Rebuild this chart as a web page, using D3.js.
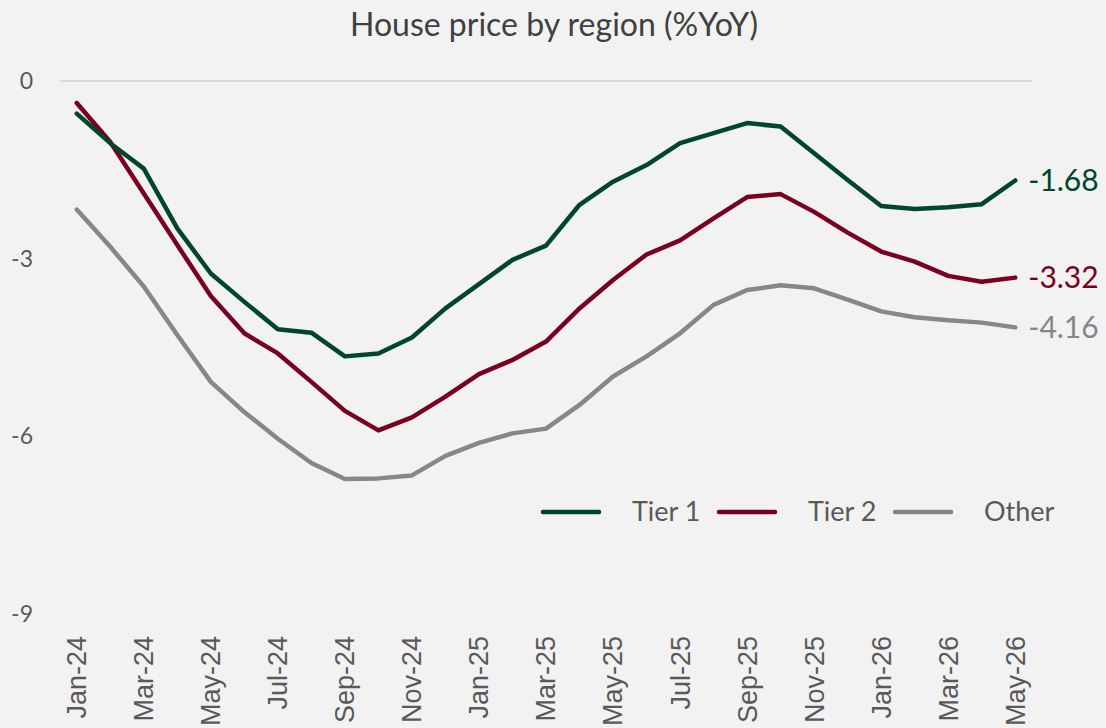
<!DOCTYPE html>
<html>
<head>
<meta charset="utf-8">
<script src="https://cdn.jsdelivr.net/npm/d3@7"></script>
<style>
  body { margin: 0; background: #f2f2f2; }
  svg { display: block; }
</style>
</head>
<body>
<div id="chart"></div>
<script>
// months on the category axis
var months = ["Jan-24","Feb-24","Mar-24","Apr-24","May-24","Jun-24","Jul-24","Aug-24","Sep-24","Oct-24","Nov-24","Dec-24",
              "Jan-25","Feb-25","Mar-25","Apr-25","May-25","Jun-25","Jul-25","Aug-25","Sep-25","Oct-25","Nov-25","Dec-25",
              "Jan-26","Feb-26","Mar-26","Apr-26","May-26"];

var tier1 = [-0.55,-1.05,-1.48,-2.49,-3.25,-3.73,-4.19,-4.25,-4.65,-4.60,-4.33,-3.84,
             -3.43,-3.02,-2.78,-2.09,-1.70,-1.42,-1.05,-0.88,-0.71,-0.77,-1.22,-1.67,
             -2.11,-2.16,-2.13,-2.08,-1.68];
var tier2 = [-0.37,-1.03,-1.90,-2.77,-3.63,-4.26,-4.60,-5.08,-5.57,-5.90,-5.68,-5.33,
             -4.95,-4.71,-4.40,-3.84,-3.36,-2.93,-2.69,-2.32,-1.96,-1.91,-2.21,-2.56,
             -2.88,-3.05,-3.29,-3.39,-3.32];
var other = [-2.17,-2.80,-3.47,-4.29,-5.08,-5.59,-6.04,-6.45,-6.72,-6.71,-6.66,-6.33,
             -6.11,-5.95,-5.87,-5.47,-4.99,-4.65,-4.26,-3.78,-3.53,-3.45,-3.50,-3.69,
             -3.89,-3.99,-4.04,-4.08,-4.16];

var seriesNames = ["Tier 1", "Tier 2", "Other"];
var yTicks = [0, -3, -6, -9];

var colors = ["#00472a", "#7a0020", "#878787"];
var allSeries = [tier1, tier2, other];

var W = 1106, H = 728;
var plotLeft = 60, plotRight = 1032, plotTop = 81, plotBottom = 614;

var svg = d3.select("#chart").append("svg")
    .attr("width", W)
    .attr("height", H)
    .style("background", "#f2f2f2");

var x = d3.scaleBand().domain(months).range([plotLeft, plotRight]);
var y = d3.scaleLinear().domain([-9, 0]).range([plotBottom, plotTop]);
function cx(m) { return x(m) + x.bandwidth() / 2; }

// title
svg.append("text")
    .attr("x", 554)
    .attr("y", 36)
    .attr("text-anchor", "middle")
    .style("font-family", "Lato")
    .style("font-size", "32px")
    .style("fill", "#404040")
    .text("House price by region (%YoY)");

// zero line
svg.append("line")
    .attr("x1", plotLeft).attr("x2", plotRight)
    .attr("y1", y(0)).attr("y2", y(0))
    .attr("stroke", "#d9d9d9")
    .attr("stroke-width", 2);

// y labels
svg.selectAll(".ylab")
    .data(yTicks)
    .enter().append("text")
    .attr("class", "ylab")
    .attr("x", 33)
    .attr("y", function (d) { return y(d); })
    .attr("dy", "0.35em")
    .attr("text-anchor", "end")
    .style("font-family", "Lato")
    .style("font-size", "23px")
    .style("fill", "#595959")
    .text(function (d) { return d; });

// x labels, every other month
svg.selectAll(".xlab")
    .data(months.filter(function (d, i) { return i % 2 === 0; }))
    .enter().append("text")
    .attr("class", "xlab")
    .attr("transform", function (d) {
        return "translate(" + cx(d) + ",636) rotate(-90)";
    })
    .attr("dy", "0.35em")
    .attr("text-anchor", "end")
    .style("font-family", "Liberation Sans")
    .style("font-size", "27px")
    .style("fill", "#595959")
    .text(function (d) { return d; });

var line = d3.line()
    .x(function (d, i) { return cx(months[i]); })
    .y(function (d) { return y(d); })
    .curve(d3.curveLinear);

// draw Other first so Tier 1 sits on top
[2, 1, 0].forEach(function (k) {
    svg.append("path")
        .datum(allSeries[k])
        .attr("d", line)
        .attr("fill", "none")
        .attr("stroke", colors[k])
        .attr("stroke-width", 4.5)
        .attr("stroke-linejoin", "round")
        .attr("stroke-linecap", "round");
});

// end labels
allSeries.forEach(function (s, k) {
    var last = s[s.length - 1];
    svg.append("text")
        .attr("x", cx(months[months.length - 1]) + 13)
        .attr("y", y(last))
        .attr("dy", "0.35em")
        .style("font-family", "Lato")
        .style("font-size", "30px")
        .style("fill", colors[k])
        .text(last.toFixed(2));
});

// legend
var legX = [543, 719, 895];
seriesNames.forEach(function (name, k) {
    var g = svg.append("g").attr("transform", "translate(" + legX[k] + ",512)");
    g.append("line")
        .attr("x1", 0).attr("x2", 56)
        .attr("stroke", colors[k])
        .attr("stroke-width", 4.5)
        .attr("stroke-linecap", "round");
    g.append("text")
        .attr("x", 89)
        .attr("dy", "0.35em")
        .style("font-family", "Lato")
        .style("font-size", "27px")
        .style("fill", "#595959")
        .text(name);
});
</script>
</body>
</html>
